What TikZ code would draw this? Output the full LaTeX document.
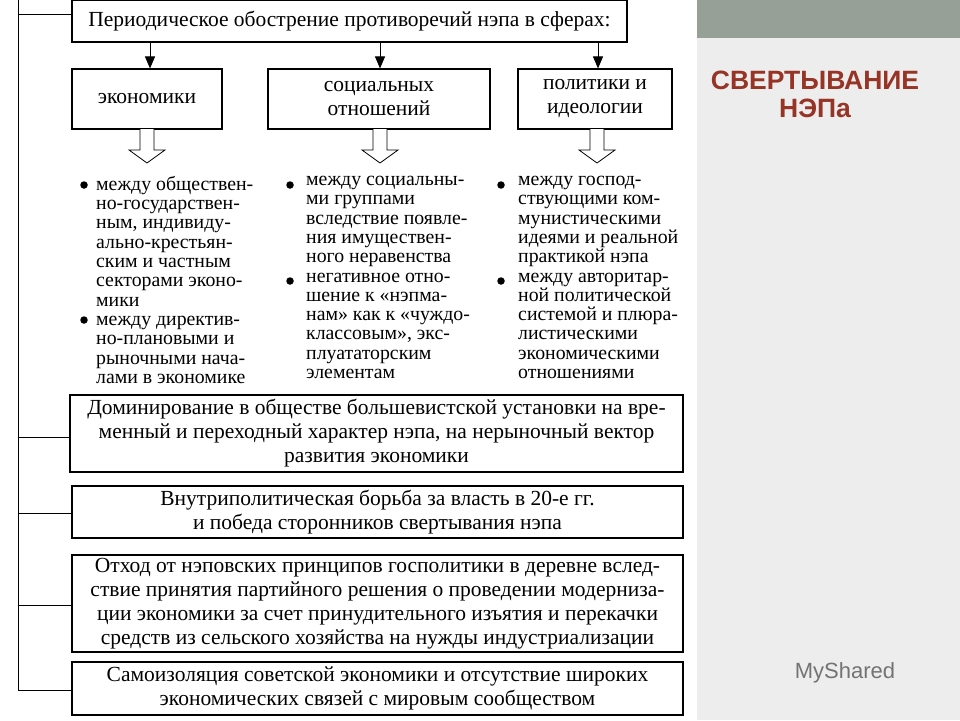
\documentclass[tikz,border=0pt]{standalone}
\usepackage{fontspec}
\setmainfont{Liberation Serif}
\newfontfamily\titlefont{Liberation Sans}
\usetikzlibrary{arrows.meta}
\definecolor{band}{RGB}{150,160,150}
\definecolor{ttl}{RGB}{150,52,38}
\begin{document}
\begin{tikzpicture}[x=1pt,y=-1pt,
  bx/.style={draw,line width=1.1pt,align=center,inner sep=0pt,font=\fontsize{21.5}{24}\selectfont},
  col/.style={anchor=north west,align=left,inner sep=0pt,font=\fontsize{19.8}{19.3}\selectfont},
  conn/.style={line width=1pt},
  arr/.style={line width=1pt,-{Triangle[length=12pt,width=10pt]}},
  hollow/.style={draw,line width=0.8pt,fill=white},
  dot/.style={circle,fill=black,inner sep=0pt,minimum size=7.5pt}]
\useasboundingbox (0,0) rectangle (960,720);
\fill[white] (0,0) rectangle (960,720);
\fill[black!7] (697,0) rectangle (960,720);
\fill[band] (697,0) rectangle (960,38);
\node[font=\titlefont\bfseries\fontsize{26.5}{28}\selectfont,text=ttl,align=center] (title) at (815,94) {СВЕРТЫВАНИЕ\\НЭПа};
\node[font=\titlefont\fontsize{22}{26}\selectfont,text=black!55] (wm) at (845,673) {MyShared};

\node[bx,minimum width=555pt,minimum height=42pt] (top) at (349.5,21) {Периодическое обострение противоречий нэпа в сферах:};
\node[bx,minimum width=150pt,minimum height=60pt] (ec) at (147,99) {экономики};
\node[bx,minimum width=222pt,minimum height=60pt] (so) at (379,99) {социальных\\отношений};
\node[bx,minimum width=154pt,minimum height=60pt] (po) at (595,99) {политики и\\идеологии};
\coordinate (t1) at (150,42); \coordinate (t2) at (380,42); \coordinate (t3) at (598,42);
\draw[arr] (t1) -- (ec.north -| t1);
\draw[arr] (t2) -- (so.north -| t2);
\draw[arr] (t3) -- (po.north -| t3);
\foreach \n/\x in {ec/147,so/380,po/597}{
  \draw[hollow] (\x-7,129) -- (\x-7,150) -- (\x-18,150) -- (\x,163) -- (\x+18,150) -- (\x+7,150) -- (\x+7,129);
}
\node[col] (c1) at (96,176) {между обществен-\\но-государствен-\\ным, индивиду-\\ально-крестьян-\\ским и частным\\секторами эконо-\\мики\\между директив-\\но-плановыми и\\рыночными нача-\\лами в экономике};
\node[col] (c2) at (306,176) {между социальны-\\ми группами\\вследствие появле-\\ния имуществен-\\ного неравенства\\негативное отно-\\шение к «нэпма-\\нам» как к «чуждо-\\классовым», экс-\\плуататорским\\элементам};
\node[col] (c3) at (518,176) {между господ-\\ствующими ком-\\мунистическими\\идеями и реальной\\практикой нэпа\\между авторитар-\\ной политической\\системой и плюра-\\листическими\\экономическими\\отношениями};
\node[dot] (b1) at (84,185) {}; \node[dot] (b2) at (84,320) {};
\node[dot] (b3) at (290,185) {}; \node[dot] (b4) at (290,281) {};
\node[dot] (b5) at (501,185) {}; \node[dot] (b6) at (501,281) {};

\node[bx,minimum width=613pt,minimum height=77pt] (d1) at (376.5,433.5) {Доминирование в обществе большевистской установки на вре-\\менный и переходный характер нэпа, на нерыночный вектор\\развития экономики};
\node[bx,minimum width=611pt,minimum height=52pt] (d2) at (377.5,512) {Внутриполитическая борьба за власть в 20-е гг.\\и победа сторонников свертывания нэпа};
\node[bx,minimum width=611pt,minimum height=97pt] (d3) at (377.5,603.5) {Отход от нэповских принципов госполитики в деревне вслед-\\ствие принятия партийного решения о проведении модерниза-\\ции экономики за счет принудительного изъятия и перекачки\\средств из сельского хозяйства на нужды индустриализации};
\node[bx,minimum width=611pt,minimum height=53pt] (d4) at (377.5,688.5) {Самоизоляция советской экономики и отсутствие широких\\экономических связей с мировым сообществом};

\coordinate (s0) at (18,0); \coordinate (s1) at (18,690);
\draw[conn] (s0) -- (s1);
\draw[conn] (18,14) -- (top.west |- 0,14);
\draw[conn] (18,437) -- (d1.west |- 0,437);
\draw[conn] (18,513) -- (d2.west |- 0,513);
\draw[conn] (18,605) -- (d3.west |- 0,605);
\draw[conn] (18,690) -- (d4.west |- 0,690);
\end{tikzpicture}
\end{document}
